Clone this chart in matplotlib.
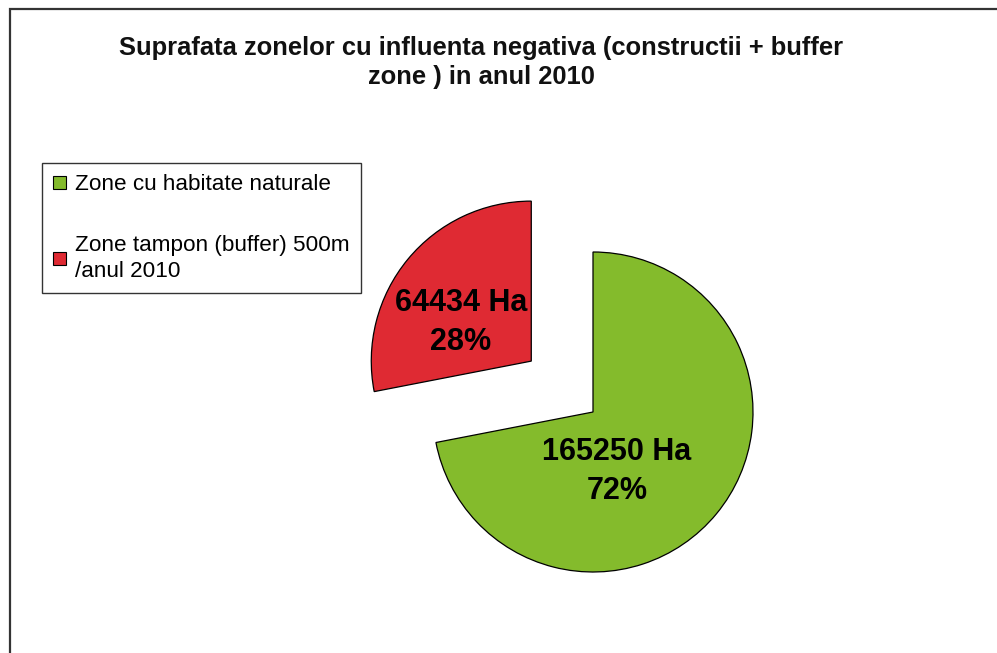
import matplotlib
matplotlib.use("Agg")
import matplotlib.pyplot as plt
from matplotlib.patches import Rectangle, Patch

plt.rcParams['font.family'] = ['Liberation Sans', 'DejaVu Sans']

categories = ["Zone cu habitate naturale", "Zone tampon (buffer) 500m\n/anul 2010"]
values = [165250, 64434]
value_labels = ["165250 Ha\n72%", "64434 Ha\n28%"]
colors = ["#84BB2C", "#DF2A33"]
title = "Suprafata zonelor cu influenta negativa (constructii + buffer\nzone ) in anul 2010"

W, H = 997, 653
fig = plt.figure(figsize=(W / 100, H / 100), dpi=100)
fig.patch.set_facecolor("white")

# outer frame (left and top edges visible)
fig.add_artist(Rectangle((9.5 / W, -0.1), 1.2, 1.1 - 9.5 / H, transform=fig.transFigure,
                         fill=False, edgecolor="#333333", linewidth=1.6))

# pie axes: center (593, 412) px, radius 160 px
cx, cy, r = 593, 412, 160
half = 1.6 * r
ax = fig.add_axes([(cx - half) / W, (H - cy - half) / H, 2 * half / W, 2 * half / H])

wedges, _ = ax.pie(values, colors=colors, startangle=90, counterclock=False,
                   explode=[0, 0.5], radius=1,
                   wedgeprops=dict(edgecolor="black", linewidth=0.9))
ax.set_xlim(-1.6, 1.6)
ax.set_ylim(-1.6, 1.6)
ax.axis("off")
for w in wedges:
    w.set_clip_on(False)

label_pos = [(0.15, -0.37), (-0.825, 0.56)]
for (x, y), t in zip(label_pos, value_labels):
    ax.text(x, y, t, ha="center", va="center", fontsize=22, fontweight="bold",
            linespacing=1.4, clip_on=False)

fig.text(481 / W, 1 - 62.5 / H, title, ha="center", va="center", fontsize=18.4,
         fontweight="bold", linespacing=1.22, color="#111111")

handles = [Patch(facecolor=c, edgecolor="black", linewidth=0.8) for c in colors]
leg = fig.legend(handles, categories, loc="upper left",
                 bbox_to_anchor=(42 / W, 1 - 163 / H), bbox_transform=fig.transFigure,
                 fontsize=16.2, frameon=True, fancybox=False, edgecolor="black",
                 borderaxespad=0, handlelength=0.55, handleheight=0.55,
                 handletextpad=0.4, labelspacing=1.75, borderpad=0.5)
leg.get_frame().set_linewidth(1.0)
for t in leg.get_texts():
    t.set_linespacing(1.35)

fig.savefig("out.png", dpi=100)
